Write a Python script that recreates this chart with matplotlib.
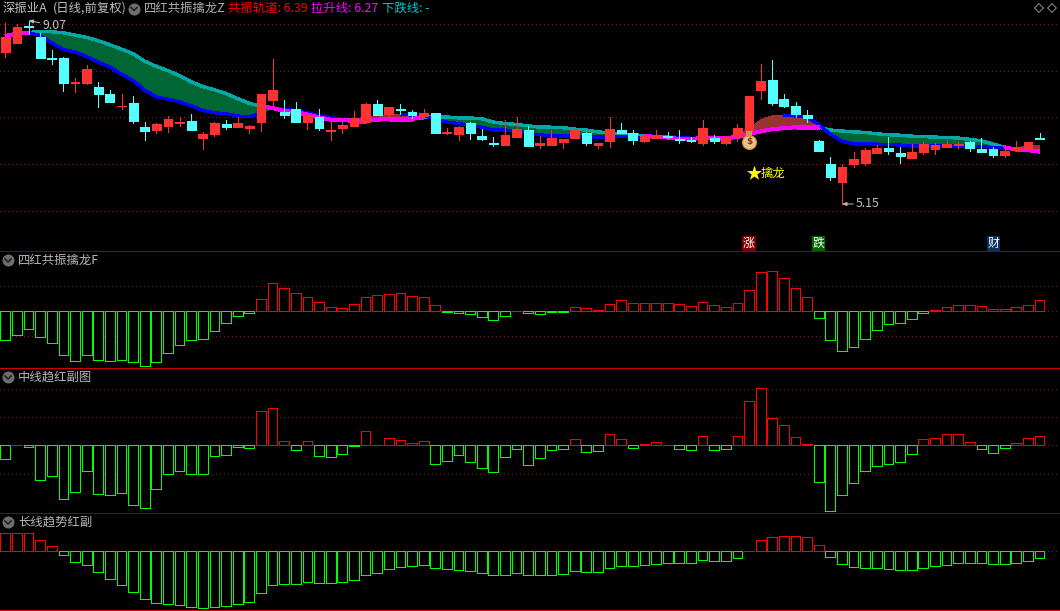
import numpy as np
import matplotlib

matplotlib.use("Agg")
import matplotlib.pyplot as plt

plt.rcParams["font.family"] = ["Noto Sans CJK SC", "DejaVu Sans"]

W, H = 1060, 611

# daily candles
opens = [8.40, 8.60, 8.95, 8.71, 8.28, 8.26, 7.74, 7.73, 7.64, 7.49,
         7.24, 7.30, 6.79, 6.73, 6.81, 6.88, 6.93, 6.56, 6.65, 6.85,
         6.79, 6.78, 6.90, 7.37, 7.12, 7.17, 6.90, 7.00, 6.72, 6.77,
         6.81, 6.91, 7.28, 7.07, 7.19, 7.11, 7.04, 7.09, 6.67, 6.64,
         6.88, 6.60, 6.45, 6.41, 6.58, 6.73, 6.41, 6.41, 6.47, 6.56,
         6.66, 6.41, 6.49, 6.73, 6.66, 6.49, 6.56, 6.60, 6.53, 6.52,
         6.45, 6.57, 6.45, 6.58, 6.73, 7.58, 7.81, 7.39, 7.24, 7.05,
         6.49, 6.00, 5.62, 6.00, 6.02, 6.24, 6.34, 6.24, 6.13, 6.26,
         6.32, 6.36, 6.41, 6.47, 6.32, 6.32, 6.19, 6.31, 6.32, 6.56]
closes = [8.71, 8.94, 8.93, 8.27, 8.25, 7.73, 7.76, 8.03, 7.49, 7.33,
          7.25, 6.93, 6.71, 6.85, 6.96, 6.90, 6.73, 6.64, 6.88, 6.79,
          6.88, 6.81, 7.49, 7.58, 7.05, 6.90, 7.04, 6.77, 6.74, 6.83,
          6.98, 7.28, 7.05, 7.22, 7.15, 7.05, 7.09, 6.66, 6.68, 6.79,
          6.66, 6.53, 6.44, 6.62, 6.75, 6.39, 6.45, 6.56, 6.53, 6.73,
          6.45, 6.45, 6.75, 6.66, 6.51, 6.60, 6.62, 6.58, 6.52, 6.50,
          6.77, 6.49, 6.55, 6.77, 7.45, 7.77, 7.30, 7.24, 7.07, 6.98,
          6.28, 5.72, 5.94, 6.11, 6.30, 6.34, 6.28, 6.17, 6.26, 6.43,
          6.41, 6.43, 6.43, 6.34, 6.26, 6.19, 6.28, 6.36, 6.47, 6.53]
highs = [9.01, 9.00, 9.07, 8.80, 8.44, 8.29, 7.85, 8.11, 7.75, 7.58,
         7.51, 7.45, 6.90, 6.88, 7.04, 7.00, 7.07, 6.68, 6.90, 6.95,
         7.01, 6.83, 7.49, 8.24, 7.37, 7.32, 7.10, 7.17, 6.94, 6.90,
         7.13, 7.30, 7.37, 7.22, 7.28, 7.15, 7.17, 7.09, 6.77, 6.81,
         6.90, 6.75, 6.58, 6.94, 7.00, 6.81, 6.60, 6.73, 6.53, 6.73,
         6.68, 6.45, 7.00, 6.88, 6.73, 6.60, 6.73, 6.68, 6.73, 6.58,
         6.94, 6.62, 6.60, 6.85, 7.45, 8.15, 8.22, 7.51, 7.34, 7.15,
         6.51, 6.15, 6.00, 6.26, 6.34, 6.41, 6.58, 6.36, 6.43, 6.47,
         6.45, 6.53, 6.47, 6.49, 6.56, 6.36, 6.41, 6.49, 6.47, 6.66]
lows = [8.30, 8.59, 8.79, 8.27, 8.14, 7.56, 7.54, 7.71, 7.22, 7.33,
        7.19, 6.88, 6.52, 6.66, 6.69, 6.81, 6.73, 6.33, 6.61, 6.75,
        6.79, 6.67, 6.71, 7.26, 6.99, 6.90, 6.76, 6.74, 6.52, 6.67,
        6.81, 6.91, 7.05, 6.92, 7.07, 6.98, 7.01, 6.66, 6.64, 6.51,
        6.53, 6.51, 6.39, 6.41, 6.58, 6.39, 6.34, 6.41, 6.34, 6.56,
        6.41, 6.34, 6.36, 6.66, 6.43, 6.47, 6.56, 6.56, 6.45, 6.47,
        6.41, 6.45, 6.43, 6.49, 6.64, 7.39, 7.26, 7.22, 7.00, 6.90,
        6.28, 5.66, 5.15, 5.94, 5.98, 6.24, 6.21, 6.02, 6.13, 6.21,
        6.21, 6.36, 6.34, 6.28, 6.26, 6.15, 6.15, 6.30, 6.30, 6.53]

# the two rails of the band on the price panel
fast_line = [8.74, 8.79, 8.81, 8.75, 8.59, 8.45, 8.40, 8.30, 8.18, 8.08,
             7.92, 7.79, 7.58, 7.44, 7.39, 7.33, 7.25, 7.15, 7.10, 7.08,
             7.03, 7.02, 7.08, 7.20, 7.17, 7.15, 7.10, 7.04, 7.00, 6.95,
             6.97, 7.00, 7.02, 7.06, 7.07, 7.05, 7.03, 6.97, 6.90, 6.87,
             6.83, 6.79, 6.73, 6.73, 6.72, 6.66, 6.63, 6.60, 6.60, 6.60,
             6.58, 6.58, 6.58, 6.60, 6.58, 6.57, 6.60, 6.59, 6.57, 6.56,
             6.60, 6.58, 6.58, 6.63, 6.76, 6.95, 7.04, 7.05, 7.03, 7.01,
             6.85, 6.64, 6.49, 6.44, 6.44, 6.43, 6.42, 6.41, 6.39, 6.39,
             6.39, 6.39, 6.39, 6.39, 6.38, 6.36, 6.34, 6.35, 6.39, 6.39]
slow_line = [8.74, 8.79, 8.81, 8.84, 8.83, 8.81, 8.76, 8.71, 8.64, 8.55,
             8.46, 8.36, 8.20, 8.09, 8.00, 7.89, 7.76, 7.66, 7.59, 7.51,
             7.40, 7.30, 7.24, 7.20, 7.14, 7.11, 7.06, 7.00, 6.95, 6.94,
             6.93, 6.93, 6.95, 6.97, 6.97, 6.97, 7.00, 7.01, 7.01, 6.99,
             6.99, 6.97, 6.90, 6.87, 6.85, 6.82, 6.79, 6.79, 6.78, 6.75,
             6.73, 6.69, 6.67, 6.65, 6.63, 6.61, 6.58, 6.57, 6.54, 6.53,
             6.57, 6.56, 6.56, 6.58, 6.65, 6.70, 6.75, 6.77, 6.79, 6.79,
             6.79, 6.73, 6.71, 6.69, 6.68, 6.65, 6.63, 6.62, 6.60, 6.59,
             6.58, 6.57, 6.56, 6.53, 6.50, 6.43, 6.36, 6.31, 6.30, 6.27]

# indicator panels
four_red = [-87, -72, -54, -78, -96, -132, -150, -132, -147, -150,
            -147, -153, -165, -153, -126, -102, -87, -84, -60, -36,
            -15, -6, 36, 84, 69, 54, 42, 27, 12, 9,
            21, 42, 48, 51, 54, 45, 42, 18, -1, -6,
            -9, -18, -27, -15, 1, -6, -9, -3, -3, 12,
            9, 3, 21, 33, 24, 24, 24, 24, 21, 15,
            27, 18, 12, 24, 63, 117, 120, 99, 69, 42,
            -21, -87, -120, -108, -84, -57, -39, -36, -24, -6,
            3, 12, 18, 18, 15, 6, 6, 12, 18, 33]
mid_red = [-42, 1, -6, -105, -93, -162, -141, -78, -147, -150,
           -144, -180, -189, -132, -87, -78, -87, -87, -33, -30,
           -6, -9, 102, 111, 12, -15, 12, -33, -36, -27,
           -3, 42, 1, 21, 15, 6, 12, -57, -48, -30,
           -51, -69, -81, -36, -12, -60, -39, -15, -12, 18,
           -21, -18, 33, 18, -9, 3, 9, 1, -12, -15,
           27, -15, -12, 27, 132, 171, 81, 60, 24, 3,
           -111, -198, -150, -114, -78, -63, -57, -51, -27, 18,
           21, 33, 33, 9, -12, -24, -9, 6, 21, 27]
long_red = [54, 54, 54, 33, 15, -12, -33, -42, -63, -84,
            -102, -123, -144, -156, -159, -162, -168, -171, -168, -165,
            -159, -153, -126, -102, -99, -99, -93, -96, -96, -93,
            -87, -72, -66, -54, -48, -45, -42, -51, -54, -57,
            -60, -66, -72, -72, -66, -72, -72, -72, -69, -60,
            -63, -63, -51, -45, -45, -42, -39, -36, -36, -36,
            -27, -30, -30, -21, 2, 33, 42, 45, 45, 42,
            18, -18, -39, -48, -51, -51, -54, -57, -57, -51,
            -45, -42, -36, -36, -36, -39, -39, -36, -30, -21]

price_grid = [5, 6, 7, 8, 9]
four_grid = [-75, 0, 75]
mid_grid = [-87, 0, 84, 168]
long_grid = [0]

header_labels = [
    ("深振业A", 3, "#c0c0c0"),
    ("(日线,前复权)", 53, "#c0c0c0"),
    ("四红共振擒龙Z", 144, "#b0b0b0"),
    ("共振轨道: 6.39", 228, "#ff0000"),
    ("拉升线: 6.27", 311, "#ff00ff"),
    ("下跌线: -", 382, "#00c8c8"),
]

RED = "#ff3232"
CYAN = "#54ffff"
GRID = "#960f0f"
FONT = 8.9


def px_axes(fig, top, bottom):
    ax = fig.add_axes([0, 1 - bottom / H, 1, (bottom - top) / H], facecolor="black")
    ax.set_xlim(-0.456, 90.76)
    ax.set_xticks([])
    ax.set_yticks([])
    for spine in ax.spines.values():
        spine.set_visible(False)
    return ax


def draw_grid(ax, levels):
    for level in levels:
        ax.axhline(level, color=GRID, lw=0.7, ls=(0, (1, 4)), zorder=1, antialiased=False)


def draw_candles(ax, x):
    o = np.array(opens)
    c = np.array(closes)
    colors = [RED if up else CYAN for up in c >= o]
    ax.vlines(x, lows, highs, colors=colors, lw=0.7, zorder=3, antialiased=False)
    ax.bar(x, np.abs(c - o), bottom=np.minimum(o, c), width=0.76, color=colors,
           edgecolor=colors, lw=0.5, zorder=4, antialiased=False)


def draw_band(ax, x):
    fast = np.array(fast_line)
    slow = np.array(slow_line)
    ax.fill_between(x, fast, slow, where=fast <= slow, interpolate=True,
                    color="#006633", lw=0, zorder=2, antialiased=False)
    ax.fill_between(x, fast, slow, where=fast >= slow, interpolate=True,
                    color="#993333", lw=0, zorder=2, antialiased=False)
    for i in range(len(x) - 1):
        seg_x = x[i:i + 2]
        down = fast[i + 1] < slow[i + 1]
        if down:
            ax.plot(seg_x, slow[i:i + 2], color="#00a8a8", lw=1.7, zorder=2.2,
                    solid_capstyle="butt", antialiased=False)
        if down or fast[i + 1] < fast[i]:
            ax.plot(seg_x, fast[i:i + 2], color="#0000ff", lw=1.6, zorder=2.3,
                    solid_capstyle="butt", antialiased=False)
    for i in range(len(x) - 1):
        if fast[i + 1] >= slow[i + 1]:
            ax.plot(x[i:i + 2], slow[i:i + 2], color="#ff00ff", lw=2.2, zorder=2.4,
                    solid_capstyle="butt", antialiased=False)


def draw_bars(ax, x, values):
    values = np.array(values)
    colors = ["#ff0000" if v > 0 else "#00ff00" for v in values]
    ax.bar(x, values, width=0.84, facecolor="black", edgecolor=colors, lw=0.6,
           zorder=3, antialiased=False)


def draw_icon(ax, cx, cy):
    ax.scatter([cx], [cy], s=75, color="#6e6e6e", lw=0, zorder=5)
    ax.plot([cx - 3, cx, cx + 3], [cy - 1, cy + 2, cy - 1], color="#222222", lw=1.2, zorder=6)


x = np.arange(len(closes))
fig = plt.figure(figsize=(W / 100, H / 100), dpi=100, facecolor="black")

# price panel
ax_main = px_axes(fig, 0, 251.3)
ax_main.set_ylim(4.139, 9.509)
draw_grid(ax_main, price_grid)
draw_band(ax_main, x)
draw_candles(ax_main, x)

top_i = int(np.argmax(highs))
low_i = int(np.argmin(lows))
for idx, value, offset in [(top_i, highs[top_i], (14, -5)), (low_i, lows[low_i], (14, 0))]:
    ax_main.annotate(f"{value:.2f}", xy=(idx, value), xytext=offset, textcoords="offset pixels",
                     color="#c0c0c0", fontsize=FONT, va="center", ha="left", zorder=7,
                     arrowprops=dict(arrowstyle="-|>,head_width=0.12,head_length=0.3",
                                     color="#c0c0c0", lw=0.7, shrinkA=0, shrinkB=0))

# signal marks
ax_main.scatter([64], [6.48], s=100, color="#e8c48c", edgecolor="#d09a20", lw=0.8, zorder=8)
ax_main.scatter([64], [6.65], s=16, marker="s", color="#c89a40", lw=0, zorder=8)
ax_main.text(64, 6.48, "$", color="#8a2a10", fontsize=6.5, ha="center", va="center",
             fontweight="bold", family="DejaVu Sans", zorder=9)
ax_main.scatter([64.4], [5.81], s=130, marker="*", color="#ffff00", lw=0, zorder=8)
ax_main.text(65, 5.81, "擒龙", color="#ffff00", fontsize=FONT, va="center", ha="left", zorder=8)
for idx, label, bg in [(64, "涨", "#800000"), (70, "跌", "#006400"), (85, "财", "#0a3060")]:
    ax_main.text(idx, 4.305, label, color="white", fontsize=8.6, ha="center", va="center", zorder=8,
                 bbox=dict(boxstyle="square,pad=0.05", facecolor=bg, edgecolor="none"))

# indicator panels
ax_four = px_axes(fig, 251.3, 368.4)
ax_four.set_ylim(-171.3, 180)
draw_grid(ax_four, four_grid)
draw_bars(ax_four, x, four_red)

ax_mid = px_axes(fig, 368.4, 513.3)
ax_mid.set_ylim(-204, 230.7)
draw_grid(ax_mid, mid_grid)
draw_bars(ax_mid, x, mid_red)

ax_long = px_axes(fig, 513.3, 610.4)
ax_long.set_ylim(-177.3, 114)
draw_grid(ax_long, long_grid)
draw_bars(ax_long, x, long_red)

# texts, icons and panel separators, placed in picture pixels
overlay = fig.add_axes([0, 0, 1, 1])
overlay.set_xlim(0, W)
overlay.set_ylim(H, 0)
overlay.axis("off")

for sep, color in [(251.3, "#8c0000"), (368.4, "#d00000"), (513.3, "#8c0000"), (610.4, "#d00000")]:
    overlay.axhline(sep, color=color, lw=0.7, antialiased=False)
for label, left, color in header_labels:
    overlay.text(left, 8.5, label, color=color, fontsize=FONT, va="center", ha="left")
draw_icon(overlay, 134, 8.5)
for cy, title in [(260, "四红共振擒龙F"), (377, "中线趋红副图"), (522, "长线趋势红副")]:
    draw_icon(overlay, 8, cy)
    overlay.text(18, cy, title, color="#b8b8b8", fontsize=FONT, va="center", ha="left")
overlay.scatter([1039, 1052], [8, 8], s=20, marker="D", facecolor="none", edgecolor="#909090", lw=0.7)

fig.savefig("out.png", dpi=100, facecolor="black")
